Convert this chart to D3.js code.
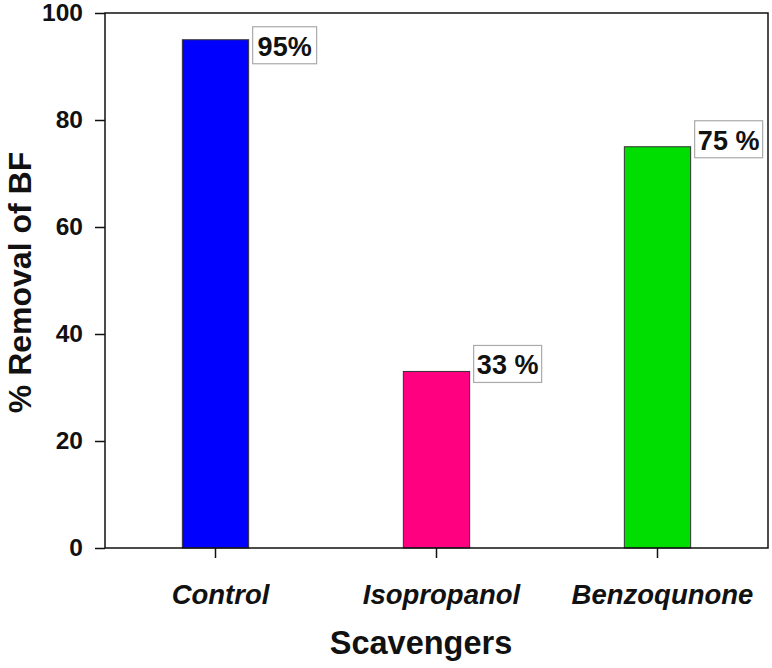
<!DOCTYPE html>
<html>
<head>
<meta charset="utf-8">
<script src="https://cdn.jsdelivr.net/npm/d3@7"></script>
<style>
  html, body { margin: 0; padding: 0; background: #fff; }
  svg { display: block; font-family: "Liberation Sans", Arial, sans-serif; }
</style>
</head>
<body>
<svg id="chart" width="772" height="668"></svg>
<script>
// ---- data ----
const categories = ["Control", "Isopropanol", "Benzoqunone"];
const removal = [95, 33, 75];
const valueLabels = ["95%", "33 %", "75 %"];
const barColors = ["#0000FF", "#FF0080", "#00DD00"];
const yTicks = [0, 20, 40, 60, 80, 100];

// ---- layout ----
const svg = d3.select("#chart");
const mLeft = 105, mRight = 768, mTop = 13, mBottom = 548;

const x = d3.scaleBand().domain(categories).range([mLeft, mRight])
  .paddingInner(0.7).paddingOuter(0.35);
const y = d3.scaleLinear().domain([0, 100]).range([mBottom, mTop]);

// bars
svg.selectAll("rect.bar").data(categories).join("rect")
  .attr("class", "bar")
  .attr("x", d => x(d))
  .attr("y", (d, i) => y(removal[i]))
  .attr("width", x.bandwidth())
  .attr("height", (d, i) => y(0) - y(removal[i]))
  .attr("fill", (d, i) => barColors[i])
  .attr("stroke", "#333")
  .attr("stroke-width", 1);

// frame
svg.append("rect").attr("x", mLeft).attr("y", mTop)
  .attr("width", mRight - mLeft).attr("height", mBottom - mTop)
  .attr("fill", "none").attr("stroke", "#111").attr("stroke-width", 1.5);

// y axis
const yAxis = svg.append("g").attr("transform", `translate(${mLeft},0)`)
  .call(d3.axisLeft(y).tickValues(yTicks).tickSize(10).tickPadding(12));
yAxis.select(".domain").remove();
yAxis.selectAll(".tick line").attr("stroke", "#111").attr("stroke-width", 1.5);
yAxis.selectAll(".tick text").attr("font-family", "Liberation Sans, Arial, sans-serif")
  .attr("font-size", 24.5).attr("font-weight", "bold").attr("fill", "#111");

// x axis
const xAxis = svg.append("g").attr("transform", `translate(0,${mBottom})`)
  .call(d3.axisBottom(x).tickSize(10).tickPadding(26));
xAxis.select(".domain").remove();
xAxis.selectAll(".tick line").attr("stroke", "#111").attr("stroke-width", 1.5);
xAxis.selectAll(".tick text").attr("font-family", "Liberation Sans, Arial, sans-serif")
  .attr("dx", 5)
  .attr("font-size", 27.5).attr("font-weight", "bold").attr("font-style", "italic").attr("fill", "#111");

// value label boxes (offset above bar top, px)
const boxRise = [13, 26, 26];
const lab = svg.selectAll("g.lab").data(categories).join("g").attr("class", "lab")
  .attr("transform", (d, i) => `translate(${x(d) + x.bandwidth() + 4},${y(removal[i]) - boxRise[i]})`);
lab.append("rect").attr("width", (d, i) => i === 0 ? 64 : 68).attr("height", 37)
  .attr("fill", "#fff").attr("stroke", "#aaa").attr("stroke-width", 1.2);
lab.append("text").attr("x", (d, i) => (i === 0 ? 64 : 68) / 2).attr("y", 29)
  .attr("text-anchor", "middle").attr("font-size", 27).attr("font-weight", "bold")
  .attr("fill", "#111").text((d, i) => valueLabels[i]);

// axis titles
svg.append("text").attr("transform", `translate(31,${(mTop + mBottom) / 2 + 2}) rotate(-90)`)
  .attr("text-anchor", "middle").attr("font-size", 32).attr("font-weight", "bold")
  .attr("fill", "#111").text("% Removal of BF");
svg.append("text").attr("x", 421).attr("y", 654)
  .attr("text-anchor", "middle").attr("font-size", 32.5).attr("font-weight", "bold")
  .attr("fill", "#111").text("Scavengers");
</script>
</body>
</html>
